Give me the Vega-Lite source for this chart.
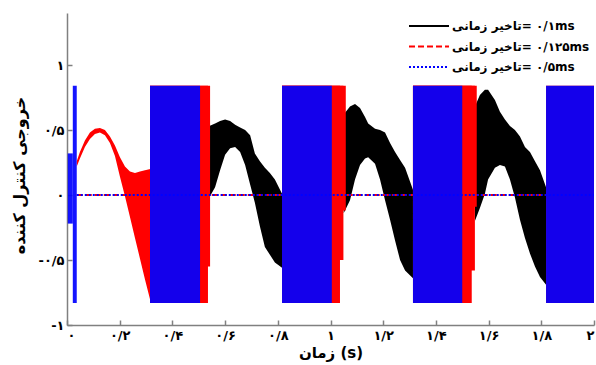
{
  "$schema": "https://vega.github.io/schema/vega-lite/v6.json",
  "width": 527,
  "height": 312,
  "autosize": {"type": "none"},
  "padding": {"left": 67, "top": 13, "right": 2, "bottom": 40},
  "background": "white",
  "config": {"view": {"stroke": null}, "font": "DejaVu Sans"},
  "datasets": {
    "black": [
      {"g": 1, "t": 0.540, "hi": 0.53, "lo": -0.02},
      {"g": 1, "t": 0.562, "hi": 0.55, "lo": 0.06},
      {"g": 1, "t": 0.581, "hi": 0.57, "lo": 0.19},
      {"g": 1, "t": 0.600, "hi": 0.58, "lo": 0.31},
      {"g": 1, "t": 0.619, "hi": 0.57, "lo": 0.36},
      {"g": 1, "t": 0.638, "hi": 0.54, "lo": 0.37},
      {"g": 1, "t": 0.657, "hi": 0.52, "lo": 0.33},
      {"g": 1, "t": 0.676, "hi": 0.50, "lo": 0.23},
      {"g": 1, "t": 0.695, "hi": 0.46, "lo": 0.08},
      {"g": 1, "t": 0.713, "hi": 0.32, "lo": -0.06},
      {"g": 1, "t": 0.732, "hi": 0.26, "lo": -0.24},
      {"g": 1, "t": 0.751, "hi": 0.21, "lo": -0.40},
      {"g": 1, "t": 0.770, "hi": 0.17, "lo": -0.46},
      {"g": 1, "t": 0.789, "hi": 0.12, "lo": -0.52},
      {"g": 1, "t": 0.816, "hi": 0.01, "lo": -0.56},
      {"g": 2, "t": 1.050, "hi": 0.62, "lo": -0.14},
      {"g": 2, "t": 1.074, "hi": 0.68, "lo": -0.04},
      {"g": 2, "t": 1.093, "hi": 0.70, "lo": 0.12},
      {"g": 2, "t": 1.112, "hi": 0.67, "lo": 0.23},
      {"g": 2, "t": 1.131, "hi": 0.60, "lo": 0.28},
      {"g": 2, "t": 1.143, "hi": 0.55, "lo": 0.29},
      {"g": 2, "t": 1.169, "hi": 0.51, "lo": 0.24},
      {"g": 2, "t": 1.188, "hi": 0.50, "lo": 0.12},
      {"g": 2, "t": 1.207, "hi": 0.48, "lo": -0.04},
      {"g": 2, "t": 1.226, "hi": 0.40, "lo": -0.19},
      {"g": 2, "t": 1.245, "hi": 0.33, "lo": -0.35},
      {"g": 2, "t": 1.264, "hi": 0.27, "lo": -0.50},
      {"g": 2, "t": 1.283, "hi": 0.21, "lo": -0.58},
      {"g": 2, "t": 1.313, "hi": 0.04, "lo": -0.64},
      {"g": 3, "t": 1.548, "hi": 0.68, "lo": -0.20},
      {"g": 3, "t": 1.567, "hi": 0.77, "lo": -0.10},
      {"g": 3, "t": 1.586, "hi": 0.81, "lo": 0.01},
      {"g": 3, "t": 1.598, "hi": 0.81, "lo": 0.12},
      {"g": 3, "t": 1.624, "hi": 0.73, "lo": 0.21},
      {"g": 3, "t": 1.643, "hi": 0.64, "lo": 0.23},
      {"g": 3, "t": 1.662, "hi": 0.58, "lo": 0.22},
      {"g": 3, "t": 1.681, "hi": 0.53, "lo": 0.12},
      {"g": 3, "t": 1.700, "hi": 0.50, "lo": -0.02},
      {"g": 3, "t": 1.719, "hi": 0.45, "lo": -0.19},
      {"g": 3, "t": 1.738, "hi": 0.37, "lo": -0.33},
      {"g": 3, "t": 1.757, "hi": 0.33, "lo": -0.45},
      {"g": 3, "t": 1.776, "hi": 0.26, "lo": -0.55},
      {"g": 3, "t": 1.795, "hi": 0.19, "lo": -0.63},
      {"g": 3, "t": 1.818, "hi": 0.06, "lo": -0.69}
    ],
    "redcurve": [
      {"t": 0.037, "hi": 0.26, "lo": 0.22},
      {"t": 0.049, "hi": 0.33, "lo": 0.28},
      {"t": 0.068, "hi": 0.42, "lo": 0.37},
      {"t": 0.087, "hi": 0.48, "lo": 0.43},
      {"t": 0.106, "hi": 0.51, "lo": 0.47},
      {"t": 0.125, "hi": 0.515, "lo": 0.48},
      {"t": 0.144, "hi": 0.50, "lo": 0.46},
      {"t": 0.163, "hi": 0.45, "lo": 0.40},
      {"t": 0.182, "hi": 0.38, "lo": 0.30},
      {"t": 0.201, "hi": 0.29, "lo": 0.14},
      {"t": 0.220, "hi": 0.22, "lo": -0.01},
      {"t": 0.239, "hi": 0.18, "lo": -0.17},
      {"t": 0.258, "hi": 0.17, "lo": -0.33},
      {"t": 0.277, "hi": 0.18, "lo": -0.49},
      {"t": 0.296, "hi": 0.19, "lo": -0.65},
      {"t": 0.316, "hi": 0.20, "lo": -0.81}
    ],
    "redbands": [
      {"t0": 0.315, "t1": 0.535, "lo": -0.83, "hi": 0.84},
      {"t0": 0.315, "t1": 0.543, "lo": -0.55, "hi": 0.84},
      {"t0": 0.816, "t1": 1.036, "lo": -0.83, "hi": 0.84},
      {"t0": 0.816, "t1": 1.049, "lo": -0.5, "hi": 0.84},
      {"t0": 0.816, "t1": 1.058, "lo": -0.12, "hi": 0.84},
      {"t0": 1.313, "t1": 1.536, "lo": -0.83, "hi": 0.84},
      {"t0": 1.313, "t1": 1.548, "lo": -0.58, "hi": 0.84},
      {"t0": 1.313, "t1": 1.555, "lo": -0.09, "hi": 0.84},
      {"t0": 1.818, "t1": 2.0, "lo": -0.83, "hi": 0.84}
    ],
    "bluebands": [
      {"t0": 0.022, "t1": 0.037, "lo": -0.83, "hi": 0.84},
      {"t0": 0.003, "t1": 0.022, "lo": -0.22, "hi": 0.32},
      {"t0": 0.315, "t1": 0.505, "lo": -0.83, "hi": 0.84},
      {"t0": 0.816, "t1": 1.005, "lo": -0.83, "hi": 0.84},
      {"t0": 1.313, "t1": 1.500, "lo": -0.83, "hi": 0.84},
      {"t0": 1.818, "t1": 2.0, "lo": -0.83, "hi": 0.84}
    ],
    "zero": [
      {"s": "تاخیر زمانی\u200e= ۰/۱۲۵ms", "t": 0.037, "v": 0},
      {"s": "تاخیر زمانی\u200e= ۰/۱۲۵ms", "t": 2.0, "v": 0},
      {"s": "تاخیر زمانی\u200e= ۰/۵ms", "t": 0.037, "v": 0},
      {"s": "تاخیر زمانی\u200e= ۰/۵ms", "t": 2.0, "v": 0}
    ]
  },
  "layer": [
    {
      "data": {"name": "black"},
      "mark": {"type": "area", "color": "#000000"},
      "encoding": {
        "x": {
          "field": "t", "type": "quantitative",
          "scale": {"domain": [0, 2], "nice": false},
          "axis": {
            "values": [0, 0.2, 0.4, 0.6, 0.8, 1, 1.2, 1.4, 1.6, 1.8, 2],
            "labelExpr": "['۰','۰/۲','۰/۴','۰/۶','۰/۸','۱','۱/۲','۱/۴','۱/۶','۱/۸','۲'][round(datum.value*5)]",
            "grid": false,
            "domainColor": "#808080", "domainWidth": 1.5,
            "tickColor": "#808080", "tickWidth": 1.5, "tickSize": -5,
            "labelPadding": 9, "labelFontSize": 13, "labelFontWeight": "bold",
            "labelColor": "#000000", "labelFlush": true,
            "title": "زمان (s)", "titleFontSize": 15, "titleFontWeight": "bold",
            "titleColor": "#000000", "titlePadding": 3
          }
        },
        "y": {
          "field": "hi", "type": "quantitative",
          "scale": {"domain": [-1, 1.4], "nice": false},
          "axis": {
            "values": [-1, -0.5, 0, 0.5, 1],
            "labelExpr": "['-۱','-۰/۵','۰','۰/۵','۱'][round(datum.value*2)+2]",
            "grid": false,
            "domainColor": "#808080", "domainWidth": 1.5,
            "tickColor": "#808080", "tickWidth": 1.5, "tickSize": -5,
            "labelPadding": 8, "labelFontSize": 13, "labelFontWeight": "bold",
            "labelColor": "#000000",
            "title": "خروجی کنترل کننده", "titleFontSize": 16, "titleFontWeight": "bold",
            "titleColor": "#000000", "titleX": -40, "titleY": 162
          }
        },
        "y2": {"field": "lo"},
        "detail": {"field": "g"}
      }
    },
    {
      "data": {"name": "redcurve"},
      "mark": {"type": "area", "color": "#ff0000"},
      "encoding": {
        "x": {"field": "t", "type": "quantitative"},
        "y": {"field": "hi", "type": "quantitative"},
        "y2": {"field": "lo"}
      }
    },
    {
      "data": {"name": "redbands"},
      "mark": {"type": "rect", "color": "#ff0000"},
      "encoding": {
        "x": {"field": "t0", "type": "quantitative"},
        "x2": {"field": "t1"},
        "y": {"field": "lo", "type": "quantitative"},
        "y2": {"field": "hi"}
      }
    },
    {
      "data": {"name": "zero"},
      "mark": {"type": "line", "strokeWidth": 2},
      "encoding": {
        "x": {"field": "t", "type": "quantitative"},
        "y": {"field": "v", "type": "quantitative"},
        "stroke": {
          "field": "s", "type": "nominal",
          "scale": {
            "domain": ["تاخیر زمانی\u200e= ۰/۱ms", "تاخیر زمانی\u200e= ۰/۱۲۵ms", "تاخیر زمانی\u200e= ۰/۵ms"],
            "range": ["#000000", "#ff0000", "#0000ff"]
          },
          "legend": {
            "title": null, "orient": "none", "legendX": 351, "legendY": 2,
            "symbolType": "M-2,0H2", "symbolSize": 400, "symbolStrokeWidth": 2,
            "labelOffset": 12, "rowPadding": 3.5, "labelFontSize": 12,
            "labelFontWeight": "bold", "labelColor": "#000000", "labelLimit": 0
          }
        },
        "strokeDash": {
          "field": "s", "type": "nominal",
          "scale": {
            "domain": ["تاخیر زمانی\u200e= ۰/۱ms", "تاخیر زمانی\u200e= ۰/۱۲۵ms", "تاخیر زمانی\u200e= ۰/۵ms"],
            "range": [[1, 0], [6, 3], [2, 2]]
          },
          "legend": {
            "title": null, "orient": "none", "legendX": 351, "legendY": 2,
            "symbolType": "M-2,0H2", "symbolSize": 400, "symbolStrokeWidth": 2,
            "labelOffset": 12, "rowPadding": 3.5, "labelFontSize": 12,
            "labelFontWeight": "bold", "labelColor": "#000000", "labelLimit": 0
          }
        }
      }
    },
    {
      "data": {"name": "bluebands"},
      "mark": {"type": "rect", "color": "#0000ff", "opacity": 0.92},
      "encoding": {
        "x": {"field": "t0", "type": "quantitative"},
        "x2": {"field": "t1"},
        "y": {"field": "lo", "type": "quantitative"},
        "y2": {"field": "hi"}
      }
    }
  ]
}
